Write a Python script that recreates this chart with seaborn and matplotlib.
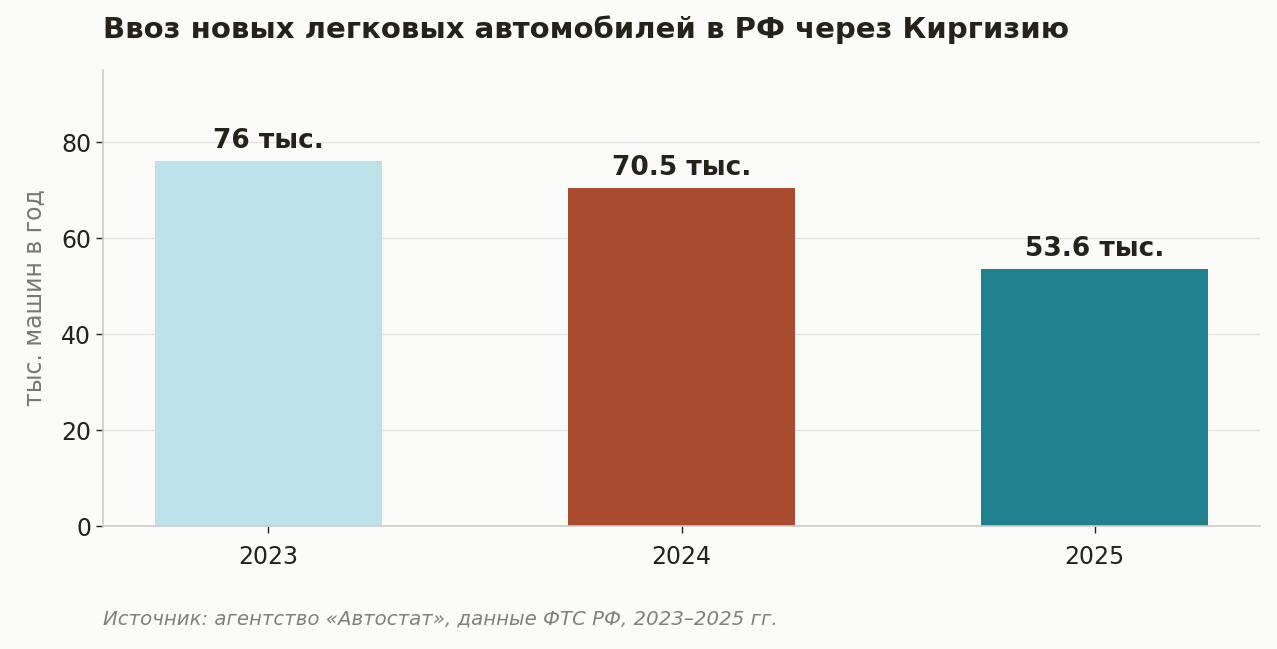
import matplotlib
matplotlib.use("Agg")
import matplotlib.pyplot as plt
import seaborn as sns
import pandas as pd

years = ["2023", "2024", "2025"]
imports_k = [76.0, 70.5, 53.6]
bar_labels = ["76 тыс.", "70.5 тыс.", "53.6 тыс."]
bar_colors = ["#bde1e8", "#a84b2f", "#21808d"]

df = pd.DataFrame({"year": years, "value": imports_k})

sns.set_theme(style="whitegrid")
plt.rcParams["font.family"] = ["DejaVu Sans"]

bg = "#fbfbf9"
fig = plt.figure(figsize=(12.77, 6.49), dpi=100, facecolor=bg)
ax = fig.add_axes([103 / 1277, 1 - 526 / 649, (1260 - 103) / 1277, (526 - 70) / 649])
ax.set_facecolor(bg)

sns.barplot(data=df, x="year", y="value", hue="year", palette=bar_colors,
            width=0.55, legend=False, ax=ax, saturation=1, linewidth=0)

for p, lab in zip(ax.patches, bar_labels):
    ax.annotate(lab, (p.get_x() + p.get_width() / 2, p.get_height()),
                xytext=(0, 5), textcoords="offset points", ha="center", va="bottom",
                fontsize=19, fontweight="bold", color="#25221c")

ax.set_xlim(-0.4, 2.4)
ax.set_ylim(0, 95)
ax.set_yticks([0, 20, 40, 60, 80])
ax.grid(axis="y", color="#e4e4e2", linewidth=1)
ax.grid(axis="x", visible=False)
ax.set_axisbelow(True)
for s in ["top", "right"]:
    ax.spines[s].set_visible(False)
for s in ["left", "bottom"]:
    ax.spines[s].set_color("#cccccc")
    ax.spines[s].set_linewidth(1.2)
ax.tick_params(axis="both", labelsize=17, colors="#222222", length=5, width=1,
               left=True, bottom=True)
ax.tick_params(axis="x", pad=9)
ax.set_xlabel("")
ax.set_ylabel("тыс. машин в год", fontsize=17, color="#777777", labelpad=10)

fig.text(103 / 1277, 1 - 30 / 649, "Ввоз новых легковых автомобилей в РФ через Киргизию",
         fontsize=21, fontweight="bold", color="#25221c", va="center", ha="left")
fig.text(103 / 1277, 1 - 619 / 649, "Источник: агентство «Автостат», данные ФТС РФ, 2023–2025 гг.",
         fontsize=14.2, style="italic", color="#808080", va="center", ha="left")

fig.savefig("out.png", dpi=100, facecolor=bg)
